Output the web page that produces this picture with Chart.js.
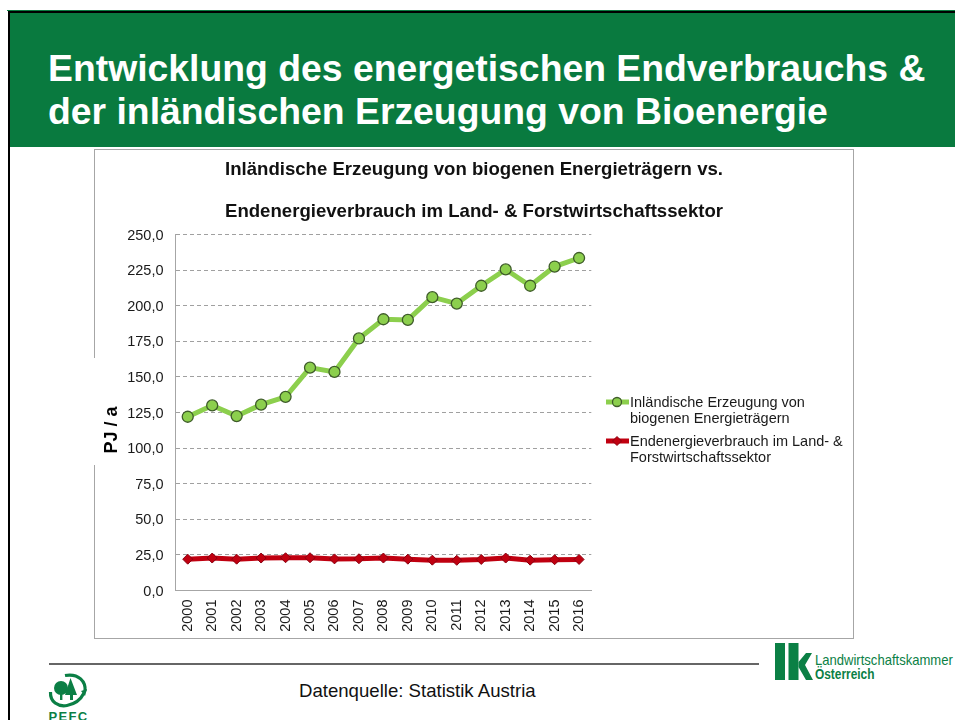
<!DOCTYPE html>
<html><head><meta charset="utf-8">
<script src="https://cdn.jsdelivr.net/npm/chart.js@4"></script>
<style>
html,body{margin:0;padding:0;background:#fff;width:955px;height:720px;overflow:hidden;font-family:"Liberation Sans",Arial,sans-serif}
.abs{position:absolute}
#h1,#h2{color:#fff;font-weight:bold;font-size:37.35px;line-height:42px;white-space:nowrap;left:48px}
#logo-a,#logo-b{color:#0b8045;white-space:nowrap;transform-origin:0 0;left:815px}
</style></head><body>
<div class="abs" style="left:7px;top:10px;width:948px;height:1px;background:#0a7a3f"></div>
<div class="abs" style="left:8px;top:11px;width:947px;height:2px;background:#000"></div>
<div class="abs" style="left:8px;top:11px;width:2px;height:709px;background:#000"></div>
<div class="abs" style="left:10px;top:13px;width:945px;height:134px;background:#097a3f"></div>
<div class="abs" id="h1" style="top:47px">Entwicklung des energetischen Endverbrauchs &amp;</div>
<div class="abs" id="h2" style="top:90px">der inländischen Erzeugung von Bioenergie</div>
<div class="abs" style="left:94px;top:149px;width:758px;height:488px;border:1px solid #a6a6a6"></div>
<div class="abs" style="left:92px;top:358px;width:5px;height:107px;background:#fff"></div>
<canvas class="abs" id="c" width="760" height="490" style="left:94px;top:149px;width:760px;height:490px"></canvas>
<div class="abs" style="left:49px;top:663px;width:710px;height:1.5px;background:#666"></div>
<div class="abs" style="left:299px;top:680px;font-size:18.6px;line-height:22px;color:#111;white-space:nowrap">Datenquelle: Statistik Austria</div>
<svg class="abs" style="left:45px;top:670px" width="50" height="50" viewBox="0 0 50 50">
<g fill="none" stroke="#0b7f45" stroke-width="3.2"><path d="M20 5.5 C34 3 41 12 40 21"/><path d="M5.5 22 C5 32 13 37 22 35.5 C30 34 36 29 39 23"/></g>
<path d="M36 21 L42 19 L40 26Z" fill="#0b7f45"/>
<circle cx="16" cy="18" r="7" fill="#0b7f45"/><rect x="15" y="23" width="2.4" height="7" fill="#0b7f45"/>
<path d="M25.500 8 L32 25 L28 25 L28 30 L25 30 L25 25 L20 25Z" fill="#0b7f45"/>
<text x="3.500" y="51" font-family="Liberation Sans" font-weight="bold" font-size="13" letter-spacing="1.3" fill="#0b7f45">PEFC</text>
</svg>
<svg class="abs" style="left:770px;top:640px" width="48" height="44" viewBox="0 0 48 44">
<g fill="#0b8045"><rect x="5" y="3" width="10" height="37"/><rect x="18.500" y="3" width="10" height="37"/><path d="M28.500 22 L36 13 L42 13 L35 25 L43 40 L36 40 L28.500 27Z"/></g>
</svg>
<div class="abs" id="logo-a" style="top:652px;font-size:14.5px;line-height:17px;transform:scaleX(.9)">Landwirtschaftskammer</div>
<div class="abs" id="logo-b" style="top:666px;font-size:14.5px;font-weight:bold;line-height:17px;transform:scaleX(.82)">Österreich</div>
<script>
const years = ["2000","2001","2002","2003","2004","2005","2006","2007","2008","2009","2010","2011","2012","2013","2014","2015","2016"];
const erzeugung = [122,130,122.5,130.5,136,156.5,153.5,177,190.5,190,206,201.5,214,225.5,214,227.5,233.5];
const verbrauch = [22,22.8,22,22.8,23,23,22.2,22.3,22.8,22,21.3,21.2,21.8,22.8,21.3,21.6,21.8];
const nameErzeugung = ["Inländische Erzeugung von","biogenen Energieträgern"];
const nameVerbrauch = ["Endenergieverbrauch im Land- &","Forstwirtschaftssektor"];
const chartTitle = ["Inländische Erzeugung von biogenen Energieträgern vs.","Endenergieverbrauch im Land- & Forstwirtschaftssektor"];
const axisTitle = "PJ / a";
const FONT = '"Liberation Sans",Arial,sans-serif';
const GREEN = "#8ccf4d", GREEN_EDGE = "#3f5c2a", RED = "#c00010", RED_EDGE = "#8a0010";

const sideLegend = {
  id:"sideLegend",
  beforeInit(chart){
    const box = {
      position:"right", weight:0, fullSize:false, options:{},
      isHorizontal(){return false},
      update(){ this.width = 262.7; this.height = chart.height; },
      draw(){
        const ctx = chart.ctx;
        chart.data.datasets.forEach((d,i)=>{
          const y0 = i===0 ? 253 : 292;
          const lines = d.labelLines;
          ctx.save();
          ctx.strokeStyle = d.borderColor; ctx.lineWidth = d.borderWidth;
          ctx.beginPath(); ctx.moveTo(512,y0); ctx.lineTo(535,y0); ctx.stroke();
          ctx.fillStyle = d.pointBackgroundColor; ctx.strokeStyle = d.pointBorderColor; ctx.lineWidth = d.pointBorderWidth;
          ctx.beginPath();
          if(i===0){ctx.arc(523,y0,4.5,0,Math.PI*2);} else {ctx.moveTo(523,y0-4.5);ctx.lineTo(527.5,y0);ctx.lineTo(523,y0+4.5);ctx.lineTo(518.5,y0);ctx.closePath();}
          ctx.fill(); ctx.stroke();
          ctx.fillStyle = "#1a1a1a"; ctx.font = "14.5px "+FONT; ctx.textBaseline="middle"; ctx.textAlign="left";
          lines.forEach((t,k)=>ctx.fillText(t,536,y0+0.8+k*16.500));
          ctx.restore();
        });
      }
    };
    Chart.layouts.addBox(chart,box);
  },
  afterDraw(chart){
    const ctx = chart.ctx;
    ctx.save();
    ctx.translate(18,281); ctx.rotate(-Math.PI/2);
    ctx.font = "bold 18px "+FONT; ctx.fillStyle="#000"; ctx.textAlign="center"; ctx.textBaseline="middle";
    ctx.fillText(axisTitle,0,0);
    ctx.restore();
  }
};

new Chart(document.getElementById("c"),{
  type:"line",
  plugins:[sideLegend],
  data:{labels:years,datasets:[
    {labelLines:nameErzeugung,label:nameErzeugung.join(" "),data:erzeugung,borderColor:GREEN,borderWidth:5,pointStyle:"circle",pointRadius:5.5,pointBackgroundColor:GREEN,pointBorderColor:GREEN_EDGE,pointBorderWidth:1.3,tension:0},
    {labelLines:nameVerbrauch,label:nameVerbrauch.join(" "),data:verbrauch,borderColor:RED,borderWidth:5,pointStyle:"rectRot",pointRadius:5,pointBackgroundColor:RED,pointBorderColor:RED_EDGE,pointBorderWidth:1,tension:0}
  ]},
  options:{
    responsive:false,animation:false,
    layout:{padding:0},
    plugins:{
      legend:{display:false},tooltip:{enabled:false},
      title:{display:true,text:chartTitle,color:"#111",font:{family:FONT,size:18.6,weight:"bold",lineHeight:42/18.6},padding:{top:0,bottom:1.5}}
    },
    scales:{
      x:{type:"category",offset:true,
        grid:{display:false},border:{color:"#a6a6a6",width:1},
        ticks:{color:"#1a1a1a",font:{family:FONT,size:14.5},minRotation:90,maxRotation:90,autoSkip:false,padding:1},
        afterFit(s){s.height=48.5}},
      y:{min:0,max:250,
        grid:{color:"#a0a0a0",drawTicks:false,lineWidth:1},
        border:{color:"#a6a6a6",width:1,dash:[4,3]},
        ticks:{stepSize:25,color:"#1a1a1a",font:{family:FONT,size:14.5},padding:12,labelOffset:1,
          callback(v){return v.toFixed(1).replace(".",",")}},
        afterFit(s){s.width=81.5}}
    }
  }
});
</script>
</body></html>
